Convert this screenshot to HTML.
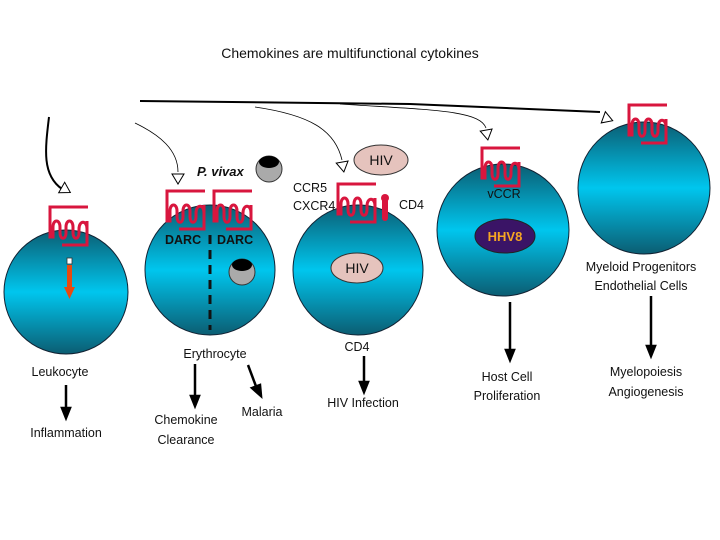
<!DOCTYPE html>
<html><head><meta charset="utf-8"><style>
html,body{margin:0;padding:0;background:#fff;}
svg{display:block;}
text{font-family:"Liberation Sans",sans-serif;font-weight:bold;font-size:12.5px;fill:#111;}
</style></head><body>
<svg width="720" height="540" viewBox="0 0 720 540" xmlns="http://www.w3.org/2000/svg">
<defs>
<linearGradient id="g" x1="0" y1="0" x2="0" y2="1">
<stop offset="0" stop-color="#0b5d72"/>
<stop offset="0.5" stop-color="#00c6ee"/>
<stop offset="1" stop-color="#0b5d72"/>
</linearGradient>
<g id="rec">
<path d="M38,0 H0 V30 H3 V20 C3,12 10,12 10,20 V26 C10,33 16,33 16,26 V20 C16,12 23,12 23,20 V26 C23,33 29,33 29,26 V22 C29,13 37,13 37,22 V38 H12 M37,22 V14" fill="none" stroke="#d8163e" stroke-width="3"/>
</g>
<g id="ah"><path d="M-6,-5 L6,-5 L0,5 Z" fill="#fff" stroke="#000" stroke-width="1"/></g>
</defs>

<text x="350" y="58" text-anchor="middle" style="font-weight:normal;font-size:14px">Chemokines are multifunctional cytokines</text>

<!-- top connectors -->
<path d="M140,101 L410,104 L600,112" fill="none" stroke="#000" stroke-width="2"/>
<path d="M49,117 C45,150 42,175 62,189" fill="none" stroke="#000" stroke-width="2"/>
<use href="#ah" transform="translate(66,190) rotate(-60)"/>
<path d="M135,123 C160,135 178,150 178,172" fill="none" stroke="#000" stroke-width="0.8"/>
<use href="#ah" transform="translate(178,179)"/>
<path d="M255,107 C310,115 335,130 342,160" fill="none" stroke="#000" stroke-width="0.8"/>
<use href="#ah" transform="translate(343,167) rotate(-10)"/>
<path d="M340,104 C430,110 480,110 486,128" fill="none" stroke="#000" stroke-width="0.8"/>
<use href="#ah" transform="translate(487,135) rotate(-10)"/>
<use href="#ah" transform="translate(608,119) rotate(-70)"/>

<!-- cells -->
<circle cx="66" cy="292" r="62" fill="url(#g)" stroke="#123" stroke-width="1"/>
<circle cx="210" cy="270" r="65" fill="url(#g)" stroke="#123" stroke-width="1"/>
<circle cx="358" cy="270" r="65" fill="url(#g)" stroke="#123" stroke-width="1"/>
<circle cx="503" cy="230" r="66" fill="url(#g)" stroke="#123" stroke-width="1"/>
<circle cx="644" cy="188" r="66" fill="url(#g)" stroke="#123" stroke-width="1"/>

<!-- receptors -->
<use href="#rec" transform="translate(50,207)"/>
<use href="#rec" transform="translate(167,191)"/>
<use href="#rec" transform="translate(214,191)"/>
<use href="#rec" transform="translate(338,184)"/>
<use href="#rec" transform="translate(482,148)"/>
<use href="#rec" transform="translate(629,105)"/>
<path d="M385,198 L385,218" stroke="#d8163e" stroke-width="6" stroke-linecap="round"/>
<circle cx="385" cy="198" r="4" fill="#d8163e"/>

<!-- leukocyte arrow -->
<rect x="67" y="258" width="5" height="6" fill="#fff" stroke="#333" stroke-width="0.8"/>
<rect x="67" y="265" width="5" height="22" fill="#e84a10"/>
<path d="M64,287 L75,287 L69.5,299 Z" fill="#e84a10"/>

<!-- erythrocyte -->
<line x1="210" y1="235" x2="210" y2="330" stroke="#111" stroke-width="3" stroke-dasharray="9,6"/>
<circle cx="242" cy="272" r="13" fill="#aaa" stroke="#333"/>
<ellipse cx="242" cy="265" rx="10" ry="6" fill="#000"/>
<circle cx="269" cy="169" r="13" fill="#aaa" stroke="#333"/>
<ellipse cx="269" cy="162" rx="10" ry="6" fill="#000"/>
<text x="197" y="176" style="font-style:italic;font-size:13px">P. vivax</text>
<text x="165" y="244">DARC</text>
<text x="217" y="244">DARC</text>

<!-- HIV -->
<ellipse cx="381" cy="160" rx="27" ry="15" fill="#e5c3bd" stroke="#333"/>
<text x="381" y="165" text-anchor="middle" style="font-weight:normal;font-size:14px">HIV</text>
<ellipse cx="357" cy="268" rx="26" ry="15" fill="#e5c3bd" stroke="#333"/>
<text x="357" y="273" text-anchor="middle" style="font-weight:normal;font-size:14px">HIV</text>
<text x="293" y="192" style="font-weight:normal">CCR5</text>
<text x="293" y="210" style="font-weight:normal">CXCR4</text>
<text x="399" y="209" style="font-weight:normal">CD4</text>

<!-- HHV8 -->
<text x="504" y="198" text-anchor="middle" style="font-weight:normal">vCCR</text>
<ellipse cx="505" cy="236" rx="30" ry="17" fill="#3a1466" stroke="#222"/>
<text x="505" y="241" text-anchor="middle" style="fill:#f5a623;font-size:13px">HHV8</text>

<text x="641" y="271" text-anchor="middle" style="font-weight:normal">Myeloid Progenitors</text>
<text x="641" y="290" text-anchor="middle" style="font-weight:normal">Endothelial Cells</text>

<!-- bottom labels & arrows -->
<g stroke="#000" stroke-width="2.5" fill="#000">
<line x1="66" y1="385" x2="66" y2="410"/><path d="M62,408 L70,408 L66,418 Z"/>
<line x1="195" y1="364" x2="195" y2="398"/><path d="M191,396 L199,396 L195,406 Z"/>
<line x1="248" y1="365" x2="257" y2="389"/><path d="M252,388 L260,385 L261,396 Z"/>
<line x1="364" y1="356" x2="364" y2="384"/><path d="M360,382 L368,382 L364,392 Z"/>
<line x1="510" y1="302" x2="510" y2="352"/><path d="M506,350 L514,350 L510,360 Z"/>
<line x1="651" y1="296" x2="651" y2="348"/><path d="M647,346 L655,346 L651,356 Z"/>
</g>
<text x="60" y="376" text-anchor="middle" style="font-weight:normal">Leukocyte</text>
<text x="66" y="437" text-anchor="middle" style="font-weight:normal">Inflammation</text>
<text x="215" y="358" text-anchor="middle" style="font-weight:normal">Erythrocyte</text>
<text x="186" y="424" text-anchor="middle" style="font-weight:normal">Chemokine</text>
<text x="186" y="444" text-anchor="middle" style="font-weight:normal">Clearance</text>
<text x="262" y="416" text-anchor="middle" style="font-weight:normal">Malaria</text>
<text x="357" y="351" text-anchor="middle" style="font-weight:normal">CD4</text>
<text x="363" y="407" text-anchor="middle" style="font-weight:normal">HIV Infection</text>
<text x="507" y="381" text-anchor="middle" style="font-weight:normal">Host Cell</text>
<text x="507" y="400" text-anchor="middle" style="font-weight:normal">Proliferation</text>
<text x="646" y="376" text-anchor="middle" style="font-weight:normal">Myelopoiesis</text>
<text x="646" y="396" text-anchor="middle" style="font-weight:normal">Angiogenesis</text>
</svg>
</body></html>
